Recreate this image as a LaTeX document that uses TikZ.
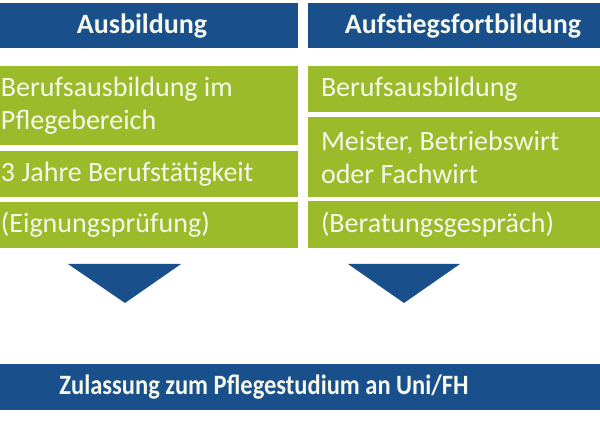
\documentclass[tikz,border=0pt]{standalone}
\usepackage{fontspec}
\setmainfont{Carlito}
\definecolor{blau}{RGB}{25,79,138}
\definecolor{gruen}{RGB}{155,187,43}
\definecolor{schrift}{RGB}{245,248,235}
\tikzstyle{base}=[inner sep=0pt, outer sep=0pt, x=1pt, y=-1pt]
\tikzstyle{kopf}=[schrift, font=\fontsize{28}{30}\selectfont\bfseries]
\tikzstyle{feld}=[schrift, anchor=west, align=left, font=\fontsize{28}{33}\selectfont]

\begin{document}
\begin{tikzpicture}[base]
    \useasboundingbox (0,0) rectangle (600,422);
        % Kopfzeilen
        \fill [blau] (0,3) rectangle (298,48);
        \fill [blau] (308,3) rectangle (600,48);
        \node [kopf] (ausbildung) at (142,26) {Ausbildung};
        \node [kopf] (aufstieg) at (463,26) {Aufstiegsfortbildung};
        % linke Spalte
        \fill [gruen] (0,66) rectangle (298,145);
        \fill [gruen] (0,151) rectangle (298,197);
        \fill [gruen] (0,202) rectangle (298,248);
        \node [feld] (ab1) at (1,106) {Berufsausbildung im\\Pflegebereich};
        \node [feld] (ab2) at (1,174) {3 Jahre Berufstätigkeit};
        \node [feld] (ab3) at (1,225) {(Eignungsprüfung)};
        % rechte Spalte
        \fill [gruen] (308,66) rectangle (600,112);
        \fill [gruen] (308,117) rectangle (600,197);
        \fill [gruen] (308,201) rectangle (600,248);
        \node [feld] (af1) at (321,89) {Berufsausbildung};
        \node [feld] (af2) at (321,157) {Meister, Betriebswirt\\oder Fachwirt};
        \node [feld] (af3) at (321,225) {(Beratungsgespräch)};
        % Pfeile
        \fill [blau] (68,264) -- (181,264) -- (125,303) -- cycle;
        \fill [blau] (348,264) -- (460,264) -- (404,303) -- cycle;
        % Zulassung
        \fill [blau] (0,364) rectangle (600,410);
        \node [kopf] (zulassung) at (264,387) {\scalebox{0.875}[1]{Zulassung zum Pflegestudium an Uni/FH}};
    \end{tikzpicture}
\end{document}
